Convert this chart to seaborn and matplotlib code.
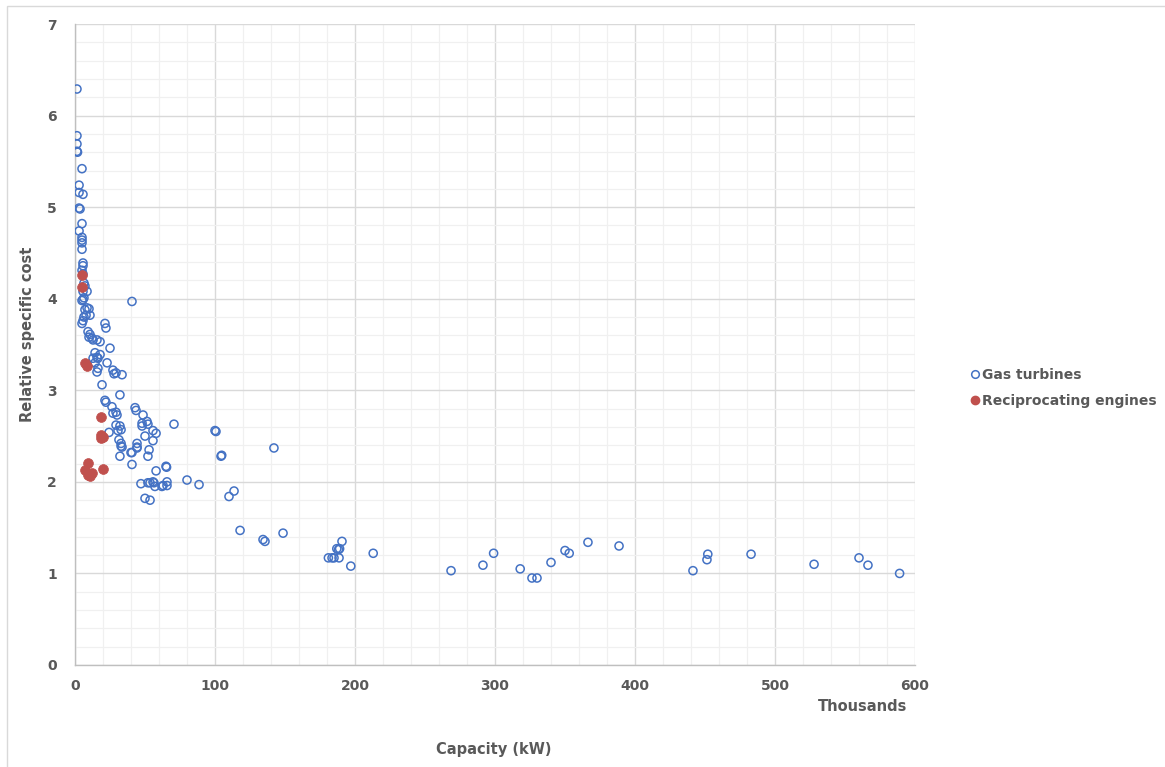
import numpy as np
import pandas as pd
import matplotlib
matplotlib.use("Agg")
import matplotlib.pyplot as plt
from matplotlib.lines import Line2D
from matplotlib.patches import Rectangle
from matplotlib.ticker import MultipleLocator
import seaborn as sns

# ---- data (capacity in thousands of kW, relative specific cost) ----
gas_x = [
    1.4, 1.4, 1.4, 1.4, 1.8, 5.0, 2.9, 2.9, 5.7, 2.9, 3.6, 5.0, 2.9, 5.0, 5.0, 5.0,
    5.0, 5.7, 5.7, 5.0, 5.7, 6.4, 7.1, 5.7, 8.6, 6.4, 5.7, 5.0, 40.7, 8.6, 7.1, 10.0,
    7.9, 6.4, 5.7, 5.0, 10.7, 21.4, 22.1, 9.3, 10.7, 10.0, 12.1, 12.9, 15.7, 17.9, 25.0,
    14.3, 15.7, 16.4, 17.9, 12.9, 22.9, 27.1, 14.3, 16.4, 15.7, 27.9, 29.3, 33.6, 19.3,
    32.1, 21.4, 22.1, 26.4, 29.3, 27.1, 30.0, 42.9, 43.6, 48.6, 51.4, 47.9, 47.9, 52.1,
    70.7, 29.3, 32.1, 32.9, 30.7, 24.3, 50.0, 55.7, 57.9, 31.4, 32.9, 33.6, 32.9, 44.3,
    44.3, 44.3, 40.0, 40.7, 52.9, 32.1, 52.1, 55.7, 100.0, 100.7, 104.3, 104.8, 142.1,
    40.7, 65.0, 65.4, 57.9, 47.1, 52.1, 53.6, 55.7, 56.4, 57.1, 62.1, 62.9, 65.7, 65.7,
    80.0, 88.6, 50.0, 53.6, 113.6, 110.0,
    117.9, 134.3, 135.7, 148.6, 190.7, 187.0, 188.2, 189.0, 181.0, 183.6, 185.0, 188.6,
    197.0, 213.0, 268.6, 291.4, 299.0, 318.0, 326.4, 330.0, 340.0, 350.0, 353.0, 366.4,
    388.6, 441.4, 452.0, 451.4, 482.9, 527.9, 560.0, 566.4, 589.0,
]
gas_y = [
    6.29, 5.78, 5.69, 5.61, 5.60, 5.42, 5.24, 5.16, 5.14, 4.99, 4.98, 4.82, 4.74, 4.67, 4.64, 4.61,
    4.54, 4.39, 4.36, 4.31, 4.27, 4.17, 4.14, 4.08, 4.08, 4.01, 3.99, 3.98, 3.97, 3.90, 3.88, 3.89,
    3.82, 3.80, 3.76, 3.73, 3.82, 3.73, 3.68, 3.64, 3.61, 3.58, 3.57, 3.55, 3.55, 3.53, 3.46,
    3.41, 3.36, 3.35, 3.39, 3.35, 3.30, 3.22, 3.30, 3.24, 3.20, 3.18, 3.19, 3.17, 3.06,
    2.95, 2.89, 2.87, 2.82, 2.76, 2.75, 2.73, 2.81, 2.78, 2.73, 2.66, 2.64, 2.61, 2.63,
    2.63, 2.62, 2.61, 2.57, 2.56, 2.54, 2.50, 2.56, 2.53, 2.46, 2.42, 2.38, 2.39, 2.42,
    2.38, 2.37, 2.32, 2.32, 2.35, 2.28, 2.28, 2.45, 2.56, 2.55, 2.28, 2.29, 2.37,
    2.19, 2.17, 2.16, 2.12, 1.98, 1.99, 1.99, 2.00, 1.99, 1.95, 1.95, 1.96, 2.00, 1.96,
    2.02, 1.97, 1.82, 1.80, 1.90, 1.84,
    1.47, 1.37, 1.35, 1.44, 1.35, 1.27, 1.26, 1.27, 1.17, 1.17, 1.17, 1.17,
    1.08, 1.22, 1.03, 1.09, 1.22, 1.05, 0.95, 0.95, 1.12, 1.25, 1.22, 1.34,
    1.30, 1.03, 1.21, 1.15, 1.21, 1.10, 1.17, 1.09, 1.00,
]
recip_x = [5.0, 5.0, 7.1, 8.6, 18.6, 18.6, 20.0, 18.6, 9.3, 7.1, 9.3, 12.1, 10.7, 20.0]
recip_y = [4.26, 4.13, 3.30, 3.27, 2.71, 2.51, 2.49, 2.48, 2.21, 2.13, 2.07, 2.10, 2.06, 2.14]

series_names = ["Gas turbines", "Reciprocating engines"]
x_ticks = [0, 100, 200, 300, 400, 500, 600]
y_ticks = [0, 1, 2, 3, 4, 5, 6, 7]
x_label = "Capacity (kW)"
y_label = "Relative specific cost"
unit_label = "Thousands"

df_gas = pd.DataFrame({"x": gas_x, "y": gas_y})
df_rec = pd.DataFrame({"x": recip_x, "y": recip_y})

sns.set_style("white")
plt.rcParams["font.family"] = ["DejaVu Sans"]

W, H = 1165, 767
fig = plt.figure(figsize=(W / 100, H / 100), dpi=100)
ax = fig.add_axes([75 / W, 1 - 665 / H, 840 / W, 641 / H])

blue = "#4472C4"
red = "#C0504D"
txt = "#595959"

sns.scatterplot(data=df_gas, x="x", y="y", ax=ax, marker="o", s=34,
                facecolor="none", edgecolor=blue, linewidth=1.1, zorder=3)
ax.collections[-1].set_facecolor("none")
ax.collections[-1].set_edgecolor(blue)
sns.scatterplot(data=df_rec, x="x", y="y", ax=ax, marker="o", s=50,
                color=red, edgecolor=red, linewidth=0.5, zorder=4)

ax.set_xlim(0, 600)
ax.set_ylim(0, 7)
ax.set_xticks(x_ticks)
ax.set_yticks(y_ticks)
ax.xaxis.set_minor_locator(MultipleLocator(20))
ax.yaxis.set_minor_locator(MultipleLocator(0.2))
ax.grid(which="major", color="#d9d9d9", linewidth=1.0, zorder=0)
ax.grid(which="minor", color="#f0f0f0", linewidth=0.9, zorder=0)
ax.set_axisbelow(True)
ax.tick_params(which="both", length=0)
ax.tick_params(axis="x", pad=10)
ax.tick_params(axis="y", pad=13)
for lab in ax.get_xticklabels() + ax.get_yticklabels():
    lab.set_fontweight("bold")
    lab.set_color(txt)
    lab.set_fontsize(10)

for s in ["top", "right"]:
    ax.spines[s].set_visible(False)
for s in ["left", "bottom"]:
    ax.spines[s].set_color("#bfbfbf")
    ax.spines[s].set_linewidth(1.0)

ax.set_xlabel(x_label, fontsize=10.5, fontweight="bold", color=txt)
ax.set_ylabel(y_label, fontsize=10.5, fontweight="bold", color=txt)
ax.xaxis.set_label_coords(0.499, -0.12)
ax.yaxis.set_label_coords(-0.048, 0.516)
ax.text(0.937, -0.0655, unit_label, transform=ax.transAxes, ha="center", va="center",
        fontsize=10.5, fontweight="bold", color=txt)

handles = [
    Line2D([], [], marker="o", linestyle="none", markersize=5.5, markerfacecolor="none",
           markeredgecolor=blue, markeredgewidth=1.1),
    Line2D([], [], marker="o", linestyle="none", markersize=6, markerfacecolor=red,
           markeredgecolor=red),
]
leg = fig.legend(handles, series_names, loc="center left",
                 bbox_to_anchor=(969 / W, 1 - 388 / H), frameon=False,
                 handlelength=0.5, handletextpad=0.25, labelspacing=0.85,
                 borderpad=0.2, borderaxespad=0.0,
                 prop={"weight": "bold", "size": 10})
for t in leg.get_texts():
    t.set_color(txt)

fig.add_artist(Rectangle((7 / W, -0.05), 1.2, 1.05 - 6 / H, transform=fig.transFigure,
                         fill=False, edgecolor="#d9d9d9", linewidth=1.0))

fig.savefig("out.png", dpi=100)
